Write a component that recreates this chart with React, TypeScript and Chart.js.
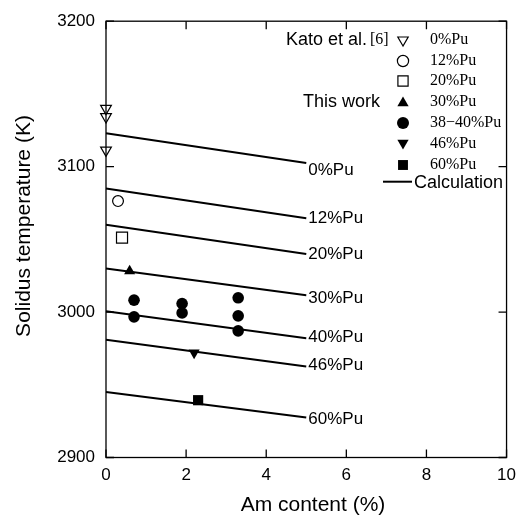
import React, { useEffect, useRef } from "react";
import { Chart, registerables } from "chart.js";

Chart.register(...registerables);

const SANS = '"Liberation Sans", Arial, Helvetica, sans-serif';
const SERIF = '"Liberation Serif", "Times New Roman", serif';

// Calculation lines (Am content 0 -> 5 %)
const calcLabels = ["0%Pu", "12%Pu", "20%Pu", "30%Pu", "40%Pu", "46%Pu", "60%Pu"];
const calcAm = [0, 5];
const calcStartT = [3123, 3085, 3060, 3030, 3000.5, 2981, 2945];
const calcEndT = [3102.5, 3064.5, 3040, 3011.5, 2982, 2962.5, 2927.5];
const calcLabelT = [3097.5, 3064.3, 3039.4, 3009.3, 2982.4, 2963.2, 2926];

// Kato et al. [6]
const kato0Am = [0, 0, 0];
const kato0T = [3140, 3134.3, 3111.3];
const kato12Am = [0.3];
const kato12T = [3076.3];
const kato20Am = [0.4];
const kato20T = [3051.2];

// This work
const work30Am = [0.59];
const work30T = [3028.2];
const work38Am = [0.7, 0.7, 1.9, 1.9, 3.3, 3.3, 3.3];
const work38T = [3008.2, 2996.7, 3005.9, 2999.4, 3009.8, 2997.4, 2987.1];
const work46Am = [2.2];
const work46T = [2972];
const work60Am = [2.3];
const work60T = [2939.4];

// Axes
const xMin = 0, xMax = 10, xStep = 2;
const yMin = 2900, yMax = 3200, yStep = 100;
const xTitle = "Am content (%)";
const yTitle = "Solidus temperature (K)";

// Legend
const legendKato = ["0%Pu", "12%Pu", "20%Pu"];
const legendWork = ["30%Pu", "38\u221240%Pu", "46%Pu", "60%Pu"];

const pts = (xs: number[], ys: number[]) => xs.map((x, i) => ({ x, y: ys[i] }));

function drawMarker(ctx: CanvasRenderingContext2D, style: string, x: number, y: number, r: number, filled: boolean, rot = 0) {
  ctx.save();
  ctx.beginPath();
  if (style === "circle") {
    ctx.arc(x, y, r, 0, Math.PI * 2);
  } else if (style === "rect") {
    const s = r * Math.SQRT1_2;
    ctx.rect(x - s, y - s, 2 * s, 2 * s);
  } else {
    let a = (rot * Math.PI) / 180;
    ctx.moveTo(x + Math.sin(a) * r, y - Math.cos(a) * r);
    a += (2 * Math.PI) / 3;
    ctx.lineTo(x + Math.sin(a) * r, y - Math.cos(a) * r);
    a += (2 * Math.PI) / 3;
    ctx.lineTo(x + Math.sin(a) * r, y - Math.cos(a) * r);
    ctx.closePath();
  }
  if (filled) {
    ctx.fillStyle = "#000";
    ctx.fill();
  } else {
    ctx.strokeStyle = "#000";
    ctx.lineWidth = 1.2;
    ctx.stroke();
  }
  ctx.restore();
}

const overlay = {
  id: "overlay",
  afterDraw(chart: any) {
    const { ctx, chartArea: a, scales } = chart;
    const xs = scales.x;
    const ys = scales.y;
    ctx.save();
    // frame
    ctx.strokeStyle = "#000";
    ctx.lineWidth = 1.3;
    ctx.strokeRect(a.left, a.top, a.right - a.left, a.bottom - a.top);
    // inward ticks
    const T = 8;
    ctx.beginPath();
    xs.ticks.forEach((t: any) => {
      const p = xs.getPixelForValue(t.value);
      ctx.moveTo(p, a.bottom);
      ctx.lineTo(p, a.bottom - T);
      ctx.moveTo(p, a.top);
      ctx.lineTo(p, a.top + T);
    });
    ys.ticks.forEach((t: any) => {
      const p = ys.getPixelForValue(t.value);
      ctx.moveTo(a.left, p);
      ctx.lineTo(a.left + T, p);
      ctx.moveTo(a.right, p);
      ctx.lineTo(a.right - T, p);
    });
    ctx.stroke();

    // calculation line labels
    ctx.fillStyle = "#000";
    ctx.font = `17px ${SANS}`;
    ctx.textAlign = "left";
    ctx.textBaseline = "middle";
    calcLabels.forEach((lab, i) => {
      ctx.fillText(lab, xs.getPixelForValue(calcAm[1]) + 2, ys.getPixelForValue(calcLabelT[i]));
    });

    // legend
    const rows = [40, 61, 81, 102, 123, 144, 165];
    const mx = 403;
    const tx = 430;
    ctx.font = `18px ${SANS}`;
    ctx.textAlign = "right";
    ctx.fillText("Kato et al.", 367, rows[0]);
    ctx.fillText("This work", 380, rows[3]);
    ctx.font = `16px ${SERIF}`;
    ctx.textAlign = "left";
    ctx.fillText("[6]", 370, rows[0]);
    const labels = [...legendKato, ...legendWork];
    labels.forEach((l, i) => ctx.fillText(l, tx, rows[i]));
    drawMarker(ctx, "triangle", mx, rows[0], 6, false, 180);
    drawMarker(ctx, "circle", mx, rows[1], 5.6, false);
    drawMarker(ctx, "rect", mx, rows[2], 7.2, false);
    drawMarker(ctx, "triangle", mx, rows[3] + 1, 6.5, true);
    drawMarker(ctx, "circle", mx, rows[4], 6, true);
    drawMarker(ctx, "triangle", mx, rows[5] - 1, 6.5, true, 180);
    drawMarker(ctx, "rect", mx, rows[6], 7, true);
    ctx.lineWidth = 2;
    ctx.beginPath();
    ctx.moveTo(383, 181.7);
    ctx.lineTo(412, 181.7);
    ctx.stroke();
    ctx.font = `18px ${SANS}`;
    ctx.fillText("Calculation", 414, 183);

    // axis titles
    ctx.font = `21px ${SANS}`;
    ctx.textAlign = "center";
    ctx.textBaseline = "alphabetic";
    ctx.fillText(xTitle, 313, 511);
    ctx.translate(30, 226);
    ctx.rotate(-Math.PI / 2);
    ctx.fillText(yTitle, 0, 0);
    ctx.restore();
  },
};

export default function App() {
  const ref = useRef<HTMLCanvasElement | null>(null);
  useEffect(() => {
    if (!ref.current) return;
    const lineSets = calcLabels.map((lab, i) => ({
      label: "Calculation " + lab,
      data: [
        { x: calcAm[0], y: calcStartT[i] },
        { x: calcAm[1], y: calcEndT[i] },
      ],
      showLine: true,
      borderColor: "#000",
      borderWidth: 2,
      pointRadius: 0,
      clip: false as any,
    }));
    const open = { backgroundColor: "rgba(0,0,0,0)", borderColor: "#000", borderWidth: 1.2, clip: false as any };
    const filled = { backgroundColor: "#000", borderColor: "#000", borderWidth: 0, clip: false as any };
    const chart = new Chart(ref.current, {
      type: "scatter",
      data: {
        datasets: [
          ...lineSets,
          { label: "Kato 0%Pu", data: pts(kato0Am, kato0T), pointStyle: "triangle", rotation: 180, pointRadius: 6.2, ...open },
          { label: "Kato 12%Pu", data: pts(kato12Am, kato12T), pointStyle: "circle", pointRadius: 5.4, ...open },
          { label: "Kato 20%Pu", data: pts(kato20Am, kato20T), pointStyle: "rect", pointRadius: 7.8, ...open },
          { label: "30%Pu", data: pts(work30Am, work30T), pointStyle: "triangle", pointRadius: 6.4, ...filled },
          { label: "38-40%Pu", data: pts(work38Am, work38T), pointStyle: "circle", pointRadius: 5.8, ...filled },
          { label: "46%Pu", data: pts(work46Am, work46T), pointStyle: "triangle", rotation: 180, pointRadius: 6.4, ...filled },
          { label: "60%Pu", data: pts(work60Am, work60T), pointStyle: "rect", pointRadius: 7.2, ...filled },
        ] as any,
      },
      options: {
        responsive: false,
        animation: false,
        events: [],
        layout: { padding: { left: 0, top: 20.5, right: 10, bottom: 0 } },
        plugins: { legend: { display: false }, tooltip: { enabled: false } },
        scales: {
          x: {
            type: "linear",
            min: xMin,
            max: xMax,
            grid: { display: false, drawTicks: false },
            border: { display: false },
            ticks: {
              stepSize: xStep,
              color: "#000",
              font: { family: SANS, size: 17 },
              padding: 8,
              maxRotation: 0,
              callback: (v: any) => String(v),
            },
            afterFit: (s: any) => {
              s.height = 515 - 457.5;
            },
          },
          y: {
            type: "linear",
            min: yMin,
            max: yMax,
            grid: { display: false, drawTicks: false },
            border: { display: false },
            ticks: {
              stepSize: yStep,
              color: "#000",
              font: { family: SANS, size: 17 },
              padding: 11,
              callback: (v: any) => String(v),
            },
            afterFit: (s: any) => {
              s.width = 106;
            },
          },
        },
      },
      plugins: [overlay],
    });
    return () => chart.destroy();
  }, []);
  return (
    <div style={{ position: "fixed", left: 0, top: 0, width: 524, height: 515, background: "#fff" }}>
      <canvas ref={ref} width={524} height={515} style={{ display: "block", width: 524, height: 515 }} />
    </div>
  );
}
